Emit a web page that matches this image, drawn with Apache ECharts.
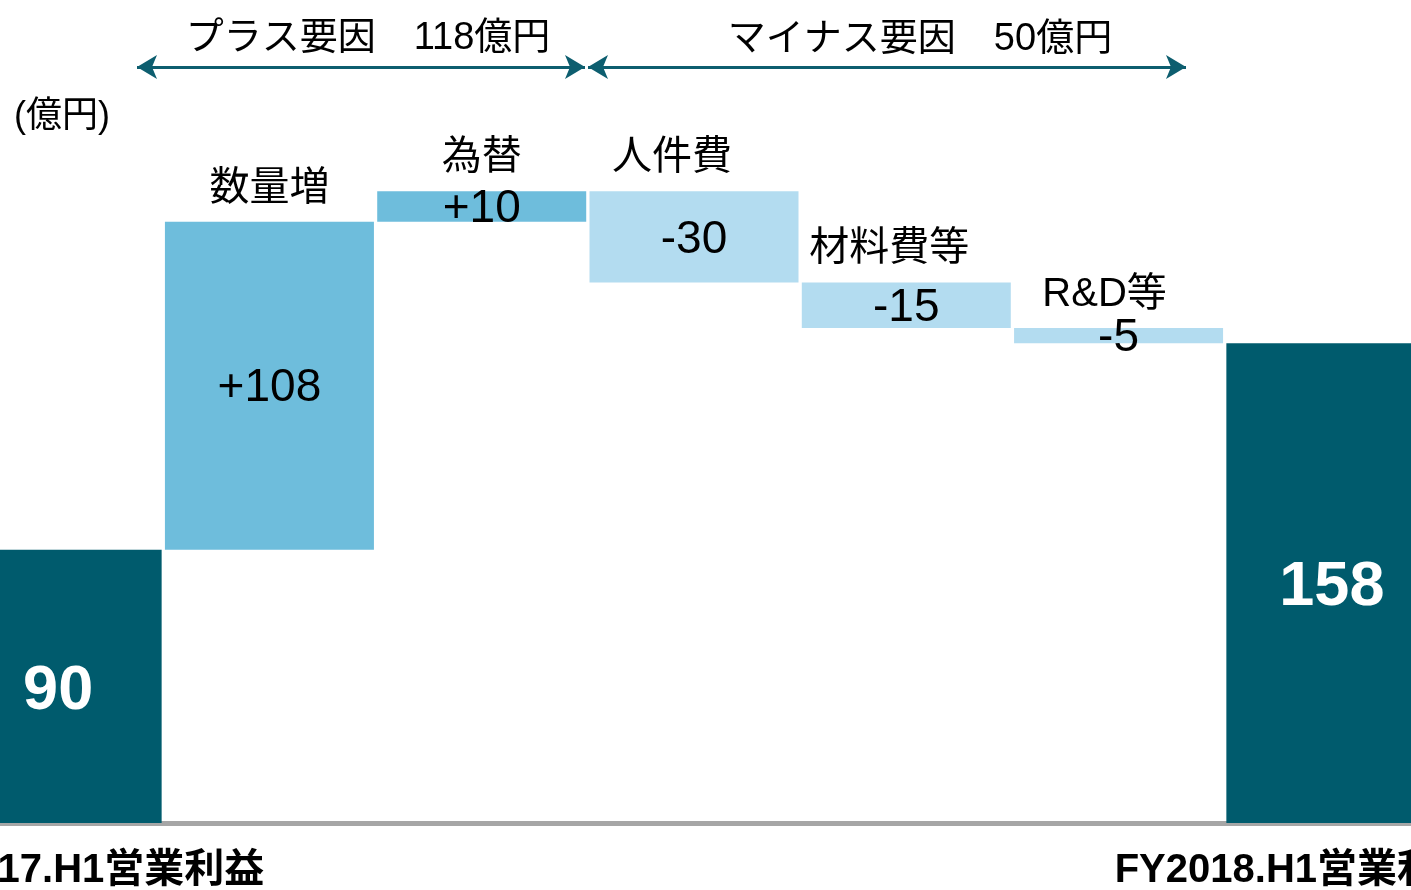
<!DOCTYPE html>
<html>
<head>
<meta charset="utf-8">
<script src="https://cdn.jsdelivr.net/npm/echarts@6/dist/echarts.min.js"></script>
<style>
  html, body { margin: 0; padding: 0; background: #fff; }
  #chart { width: 1411px; height: 890px; }
</style>
</head>
<body>
<div id="chart"></div>
<script>
// 営業利益の増減要因（億円）
const categories = ['FY2017.H1営業利益', '数量増', '為替', '人件費', '材料費等', 'R&D等', 'FY2018.H1営業利益']
const amounts = [90, 108, 10, -30, -15, -5, 158]
const isTotal = [true, false, false, false, false, false, true]
const valueLabels = ['90', '+108', '+10', '-30', '-15', '-5', '158']
const unitLabel = '(億円)'
const plusTitle = 'プラス要因　118億円'
const minusTitle = 'マイナス要因　50億円'

const FONT = "'Liberation Sans', Arial, 'Noto Sans CJK JP', sans-serif"
const TOTAL_COLOR = '#005b6d'
const PLUS_COLOR = '#6ebddc'
const MINUS_COLOR = '#b3dcf0'
const ARROW_COLOR = '#0d5e6f'

// 透明の土台 + 見える棒 を積み上げて滝グラフにする
const bases = []
const heights = []
let running = 0
amounts.forEach((a, i) => {
  if (isTotal[i]) {
    bases.push(0)
    heights.push(a)
    running = a
  } else if (a >= 0) {
    bases.push(running)
    heights.push(a)
    running += a
  } else {
    running += a
    bases.push(running)
    heights.push(-a)
  }
})

// 項目名ラベルの微調整（横ずれ）
const nameShift = { '人件費': -22, '材料費等': -17, 'R&D等': -14 }

const chart = echarts.init(document.getElementById('chart'))

const option = {
  animation: false,
  backgroundColor: '#fff',
  textStyle: { fontFamily: FONT },
  grid: {
    left: -49,
    right: -26,
    top: 0,
    bottom: 67,
    containLabel: false,
    outerBoundsMode: 'none'
  },
  xAxis: {
    type: 'category',
    data: categories.map((c, i) => ({
      value: c,
      textStyle: i === 0 ? { padding: [0, 0, 0, 52] } : i === categories.length - 1 ? { padding: [0, 70, 0, 0] } : {}
    })),
    offset: 3,
    axisLine: { lineStyle: { color: '#a6a6a6', width: 5 } },
    axisTick: { show: false },
    axisLabel: {
      interval: 0,
      margin: 25,
      fontSize: 40,
      fontWeight: 'bold',
      color: '#000',
      fontFamily: FONT,
      formatter: (v, i) => (isTotal[i] ? v : '')
    }
  },
  yAxis: {
    type: 'value',
    min: 0,
    max: 271,
    show: false,
    splitLine: { show: false }
  },
  series: [
    {
      name: 'base',
      type: 'bar',
      stack: 'w',
      barWidth: 209,
      silent: true,
      itemStyle: { color: 'transparent' },
      data: bases,
      markLine: {
        silent: true,
        symbol: ['arrow', 'arrow'],
        symbolSize: [18, 20],
        label: { show: false },
        lineStyle: { color: ARROW_COLOR, width: 3, type: 'solid' },
        emphasis: { disabled: true },
        data: [
          [{ x: 137, y: 67 }, { x: 585, y: 67 }],
          [{ x: 588, y: 67 }, { x: 1186, y: 67 }]
        ]
      }
    },
    {
      name: 'value',
      type: 'bar',
      stack: 'w',
      barWidth: 209,
      data: heights.map((h, i) => ({
        value: h,
        itemStyle: { color: isTotal[i] ? TOTAL_COLOR : amounts[i] >= 0 ? PLUS_COLOR : MINUS_COLOR },
        label: isTotal[i]
          ? { color: '#fff', fontSize: 63, fontWeight: 'bold', offset: [1, 5] }
          : { color: '#000', fontSize: 46, offset: [0, 3] }
      })),
      label: {
        show: true,
        position: 'inside',
        fontFamily: FONT,
        formatter: p => valueLabels[p.dataIndex]
      }
    },
    {
      name: 'names',
      type: 'bar',
      stack: 'w',
      barWidth: 209,
      silent: true,
      itemStyle: { color: 'transparent' },
      data: categories.map((c, i) => isTotal[i]
        ? '-'
        : { value: 0, label: { offset: [nameShift[c] || 0, 0] } }),
      label: {
        show: true,
        position: 'top',
        distance: 13,
        fontSize: 40,
        color: '#000',
        fontFamily: FONT,
        formatter: p => categories[p.dataIndex]
      }
    }
  ],
  graphic: [
    {
      type: 'text',
      x: 368,
      y: 39,
      style: { text: plusTitle, font: '38px ' + FONT, fill: '#000', align: 'center', verticalAlign: 'middle' }
    },
    {
      type: 'text',
      x: 920,
      y: 40,
      style: { text: minusTitle, font: '38px ' + FONT, fill: '#000', align: 'center', verticalAlign: 'middle' }
    },
    {
      type: 'text',
      x: 14,
      y: 117,
      style: { text: unitLabel, font: '36px ' + FONT, fill: '#000', align: 'left', verticalAlign: 'middle' }
    }
  ]
}

chart.setOption(option)
window.addEventListener('resize', () => chart.resize())
</script>
</body>
</html>
